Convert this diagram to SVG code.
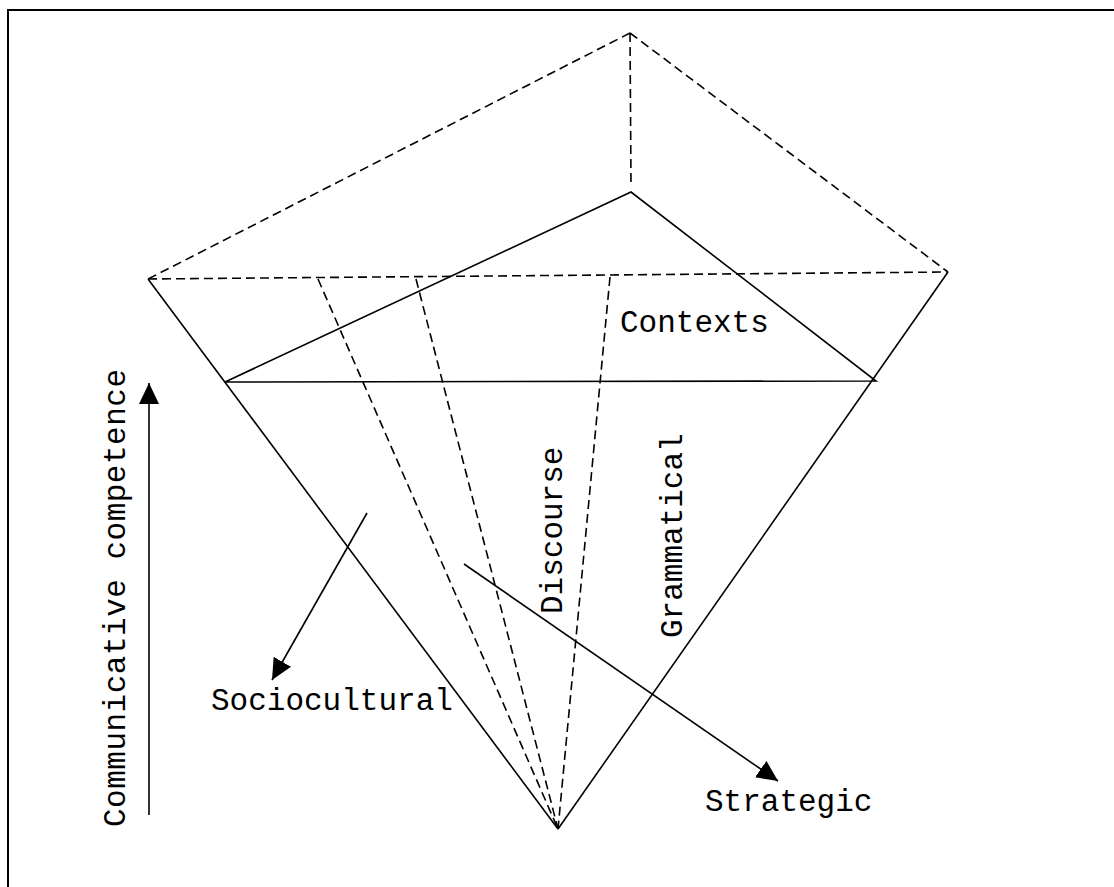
<svg xmlns="http://www.w3.org/2000/svg" width="1114" height="887" viewBox="0 0 1114 887">
<style>
.solid{stroke:#000;stroke-width:1.6;fill:none}
.dash{stroke:#000;stroke-width:1.6;fill:none;stroke-dasharray:9 5}
.frame{stroke:#000;stroke-width:2;fill:none}
.lbl{font-family:"Liberation Mono","Courier New",monospace;font-size:31px;fill:#000}
</style>
<defs>
<marker id="ah" markerUnits="userSpaceOnUse" markerWidth="22" markerHeight="20" refX="21" refY="10" orient="auto">
<path d="M0,0 L21,10 L0,20 z" fill="#000"/>
</marker>
</defs>
<rect width="1114" height="887" fill="#fff"/>
<g id="frame">
<polyline class="frame" points="8,887 8,10 1114,10"/>
</g>
<g id="pyramid">
<line class="dash" x1="630" y1="33" x2="148" y2="279"/>
<line class="dash" x1="630" y1="33" x2="948" y2="272"/>
<line class="dash" x1="630" y1="33" x2="631" y2="183"/>
<line class="dash" x1="148" y1="279" x2="948" y2="272"/>
<line class="solid" x1="148" y1="279" x2="558" y2="829"/>
<line class="solid" x1="948" y1="272" x2="558" y2="829"/>
<line class="dash" x1="318" y1="279" x2="558" y2="829"/>
<line class="dash" x1="416" y1="279" x2="558" y2="829"/>
<line class="dash" x1="610" y1="277" x2="558" y2="829"/>
</g>
<g id="contexts">
<polyline class="solid" points="225,382 631,192 876,381 225,382"/>
<text class="lbl" x="620" y="332">Contexts</text>
</g>
<g id="connectors">
<line class="solid" x1="149" y1="815" x2="149" y2="383" marker-end="url(#ah)"/>
<line class="solid" x1="367" y1="513" x2="272" y2="680" marker-end="url(#ah)"/>
<line class="solid" x1="464" y1="564" x2="778" y2="781" marker-end="url(#ah)"/>
</g>
<g id="sociocultural">
<text class="lbl" x="211" y="710">Sociocultural</text>
</g>
<g id="strategic">
<text class="lbl" x="705" y="811">Strategic</text>
</g>
<g id="discourse">
<text class="lbl" transform="translate(562,614) rotate(-90)">Discourse</text>
</g>
<g id="grammatical">
<text class="lbl" transform="translate(682,638) rotate(-90)">Grammatical</text>
</g>
<g id="competence">
<text class="lbl" transform="translate(125,827) rotate(-90)" textLength="458" lengthAdjust="spacing">Communicative competence</text>
</g>
</svg>
